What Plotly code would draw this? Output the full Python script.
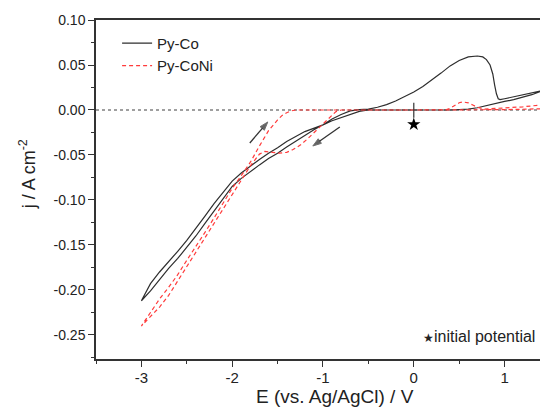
import plotly.graph_objects as go

# ---------------- data ----------------
# Py-Co : forward scan 0 V -> -3 V
co_fwd_E = [0.0, -0.2, -0.4, -0.5, -0.6, -0.7, -0.8, -0.9, -1.0, -1.1, -1.2, -1.3, -1.4, -1.5,
            -1.6, -1.7, -1.8, -1.9, -2.0, -2.1, -2.2, -2.3, -2.4, -2.5, -2.6, -2.7, -2.8, -2.9, -3.0]
co_fwd_j = [0.0, 0.0, 0.0, 0.0, -0.0015, -0.005, -0.009, -0.012, -0.0165, -0.020, -0.024, -0.0295,
            -0.035, -0.042, -0.048, -0.055, -0.062, -0.070, -0.079, -0.091, -0.104, -0.118, -0.132,
            -0.145, -0.157, -0.168, -0.180, -0.193, -0.212]
# Py-Co : reverse scan -3 V -> +1.5 V
co_rev_E = [-3.0, -2.9, -2.8, -2.7, -2.6, -2.5, -2.4, -2.3, -2.2, -2.1, -2.0, -1.9, -1.8, -1.7,
            -1.6, -1.5, -1.4, -1.3, -1.2, -1.1, -1.0, -0.9, -0.8, -0.7, -0.6, -0.5, -0.4, -0.3,
            -0.2, -0.1, 0.0, 0.1, 0.2, 0.3, 0.4, 0.5, 0.6, 0.7, 0.76, 0.8, 0.84, 0.87, 0.89, 0.91,
            0.93, 0.95, 1.0, 1.1, 1.2, 1.3, 1.39, 1.5]
co_rev_j = [-0.212, -0.201, -0.188, -0.176, -0.165, -0.153, -0.140, -0.126, -0.112, -0.099, -0.085,
            -0.076, -0.068, -0.061, -0.054, -0.048, -0.041, -0.0345, -0.028, -0.022, -0.0165,
            -0.010, -0.005, -0.001, 0.0005, 0.001, 0.003, 0.006, 0.010, 0.015, 0.020, 0.026, 0.033,
            0.041, 0.049, 0.055, 0.059, 0.060, 0.059, 0.056, 0.050, 0.040, 0.028, 0.018, 0.0125,
            0.0115, 0.0125, 0.0148, 0.017, 0.019, 0.021, 0.0225]
# Py-Co : return scan +1.5 V -> 0 V
co_ret_E = [1.5, 1.39, 1.3, 1.2, 1.1, 1.0, 0.9, 0.8, 0.7, 0.6, 0.5, 0.4, 0.2, 0.0]
co_ret_j = [0.0225, 0.0205, 0.017, 0.014, 0.0115, 0.0095, 0.007, 0.0045, 0.0025, 0.001, 0.0003,
            0.0, 0.0, 0.0]

# Py-CoNi : forward scan 0 V -> -3 V
coni_fwd_E = [0.0, -0.4, -0.8, -0.86, -0.9, -1.0, -1.04, -1.1, -1.18, -1.25, -1.33, -1.4, -1.48,
              -1.56, -1.64, -1.7, -1.8, -1.9, -2.0, -2.1, -2.2, -2.3, -2.4, -2.5, -2.6, -2.7,
              -2.8, -2.9, -3.0]
coni_fwd_j = [0.0, 0.0, 0.0, -0.002, -0.006, -0.015, -0.019, -0.025, -0.033, -0.039, -0.044,
              -0.047, -0.048, -0.047, -0.046, -0.049, -0.062, -0.078, -0.094, -0.110, -0.127,
              -0.143, -0.159, -0.175, -0.191, -0.206, -0.219, -0.229, -0.240]
# Py-CoNi : reverse scan -3 V -> +1.5 V
coni_rev_E = [-3.0, -2.9, -2.8, -2.7, -2.6, -2.5, -2.4, -2.3, -2.2, -2.1, -2.0, -1.9, -1.8, -1.7,
              -1.6, -1.5, -1.45, -1.4, -1.35, -1.3, -1.0, 0.0, 0.35, 0.4, 0.45, 0.5, 0.54, 0.6,
              0.65, 0.7, 0.78, 0.9, 1.0, 1.2, 1.39, 1.5]
coni_rev_j = [-0.240, -0.225, -0.210, -0.197, -0.183, -0.167, -0.152, -0.136, -0.120, -0.103,
              -0.087, -0.073, -0.058, -0.040, -0.023, -0.011, -0.006, -0.003, -0.001, 0.0, 0.0,
              0.0, 0.0, 0.002, 0.0055, 0.008, 0.009, 0.008, 0.0055, 0.003, 0.001, 0.0015, 0.002,
              0.0035, 0.0055, 0.0065]
# Py-CoNi : return scan +1.5 V -> 0 V
coni_ret_E = [1.5, 1.45, 1.39, 1.2, 1.0, 0.8, 0.6, 0.0]
coni_ret_j = [0.0065, 0.0015, 0.0012, 0.0008, 0.0004, 0.0002, 0.0, 0.0]

# initial potential marker
init_E = 0.0
init_tick_j = [0.008, -0.0085]
init_star_j = -0.016

# scan direction arrows: (tail E, tail j, head E, head j)
arrows = [(-1.806, -0.0367, -1.608, -0.0133),
          (-0.815, -0.0189, -1.112, -0.040)]

x_ticks = [-3, -2, -1, 0, 1]
x_ticktext = ["-3", "-2", "-1", "0", "1"]
y_ticks = [0.10, 0.05, 0.0, -0.05, -0.10, -0.15, -0.20, -0.25]
y_ticktext = ["0.10", "0.05", "0.00", "-0.05", "-0.10", "-0.15", "-0.20", "-0.25"]

# ---------------- figure ----------------
FONT = "Liberation Sans, Arial, Helvetica, sans-serif"
fig = go.Figure()

fig.add_hline(y=0, line=dict(color="#808080", width=1.5, dash="dot"), layer="below")

fig.add_trace(go.Scatter(
    x=co_fwd_E + co_rev_E + co_ret_E, y=co_fwd_j + co_rev_j + co_ret_j,
    mode="lines", name="Py-Co", line=dict(color="#2e2e2e", width=1.2)))
fig.add_trace(go.Scatter(
    x=coni_fwd_E + coni_rev_E + coni_ret_E, y=coni_fwd_j + coni_rev_j + coni_ret_j,
    mode="lines", name="Py-CoNi", line=dict(color="#ff3b3b", width=1.2, dash="4px,3px")))

fig.add_trace(go.Scatter(x=[init_E, init_E], y=init_tick_j, mode="lines",
                         line=dict(color="#333333", width=1.2), showlegend=False, hoverinfo="skip"))
fig.add_trace(go.Scatter(x=[init_E], y=[init_star_j], mode="markers",
                         marker=dict(symbol="star", size=10, color="black"),
                         showlegend=False, hoverinfo="skip"))

# scan-direction arrows drawn as short lines ending in an arrow marker
for (tx, ty, hx, hy) in arrows:
    fig.add_trace(go.Scatter(
        x=[tx, hx], y=[ty, hy], mode="lines+markers",
        line=dict(color="#333333", width=1.3),
        marker=dict(symbol=["circle", "arrow"], size=[0, 9], color="#222222",
                    angleref="previous", standoff=0),
        showlegend=False, hoverinfo="skip", cliponaxis=False))

fig.add_annotation(x=1.355, y=-0.252, xref="x", yref="y", xanchor="right", yanchor="middle",
                   showarrow=False,
                   text="<span style='font-size:12px'>★</span>initial potential",
                   font=dict(family=FONT, size=16, color="#222222"))

# axis titles
fig.add_annotation(x=0.5386, y=-0.112, xref="paper", yref="paper", xanchor="center",
                   yanchor="middle", showarrow=False, text="E (vs. Ag/AgCl) / V",
                   font=dict(family=FONT, size=19, color="#222222"))
fig.add_annotation(x=-0.1546, y=0.5457, xref="paper", yref="paper", xanchor="center",
                   yanchor="middle", showarrow=False, textangle=-90, text="j / A cm<sup>-2</sup>",
                   font=dict(family=FONT, size=18, color="#222222"))

fig.update_layout(
    width=540, height=409,
    margin=dict(l=96, r=0, t=20, b=50),
    paper_bgcolor="white", plot_bgcolor="white",
    font=dict(family=FONT, size=14, color="#222222"),
    showlegend=True,
    legend=dict(x=0.0475, y=0.98, xanchor="left", yanchor="top", bgcolor="rgba(0,0,0,0)",
                font=dict(family=FONT, size=15, color="#222222")),
    xaxis=dict(range=[-3.5, 1.39], showgrid=False, zeroline=False, showline=True,
               linecolor="#333333", linewidth=1.5, mirror=True,
               tickmode="array", tickvals=x_ticks, ticktext=x_ticktext,
               ticks="outside", ticklen=6, tickwidth=1.2, tickcolor="#333333",
               ticklabelstandoff=-2,
               minor=dict(tickmode="linear", tick0=0, dtick=0.5, ticks="outside", ticklen=3,
                          tickwidth=1.2, tickcolor="#333333"),
               tickfont=dict(family=FONT, size=15, color="#222222")),
    yaxis=dict(range=[-0.2767, 0.10], showgrid=False, zeroline=False, showline=True,
               linecolor="#333333", linewidth=1.5,
               tickmode="array", tickvals=y_ticks, ticktext=y_ticktext,
               ticks="outside", ticklen=6, tickwidth=1.2, tickcolor="#333333",
               minor=dict(tickmode="linear", tick0=0, dtick=0.025, ticks="outside", ticklen=3,
                          tickwidth=1.2, tickcolor="#333333"),
               tickfont=dict(family=FONT, size=14, color="#222222")),
)

fig.write_html("out.html", config={"displayModeBar": False},
               post_script="document.body.style.margin='0';document.body.style.overflow='hidden';")
